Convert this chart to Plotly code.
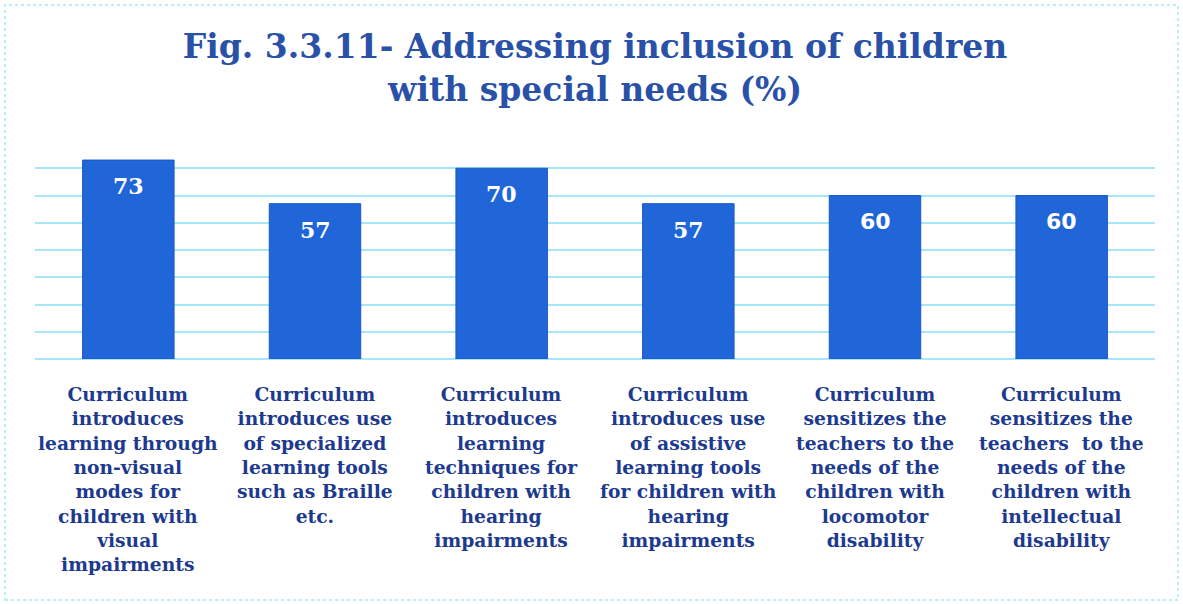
import plotly.graph_objects as go

categories = [
    "Curriculum<br>introduces<br>learning through<br>non-visual<br>modes for<br>children with<br>visual<br>impairments",
    "Curriculum<br>introduces use<br>of specialized<br>learning tools<br>such as Braille<br>etc.",
    "Curriculum<br>introduces<br>learning<br>techniques for<br>children with<br>hearing<br>impairments",
    "Curriculum<br>introduces use<br>of assistive<br>learning tools<br>for children with<br>hearing<br>impairments",
    "Curriculum<br>sensitizes the<br>teachers to the<br>needs of the<br>children with<br>locomotor<br>disability",
    "Curriculum<br>sensitizes the<br>teachers  to the<br>needs of the<br>children with<br>intellectual<br>disability",
]
values = [73, 57, 70, 57, 60, 60]
label_fonts = ["DejaVu Serif", "DejaVu Serif", "DejaVu Serif", "DejaVu Serif",
               "DejaVu Sans", "DejaVu Sans"]

W, H = 1183, 604
ML, MR, MT, MB = 35, 28, 141, 245
PW, PH = W - ML - MR, H - MT - MB

x_pos = list(range(len(categories)))

fig = go.Figure(
    go.Bar(
        x=x_pos,
        y=values,
        width=0.49,
        marker=dict(color="#2066d8", line=dict(color="#1a58c4", width=1)),
        hoverinfo="skip",
    )
)

# value labels inside the top of each bar
for i, (v, f) in enumerate(zip(values, label_fonts)):
    fig.add_annotation(
        x=i, y=v, xref="x", yref="y", text=f"<b>{v}</b>", showarrow=False,
        yanchor="middle", yshift=-26,
        font=dict(family=f, size=22, color="white"),
    )

# category labels under the bars
for i, c in enumerate(categories):
    fig.add_annotation(
        x=i, y=0, xref="x", yref="paper", text=f"<b>{c}</b>", showarrow=False,
        yanchor="top", yshift=-22, align="center",
        font=dict(family="DejaVu Serif", size=18.7, color="#1d3a8e"),
    )

# thin cyan frame around the whole figure
fig.add_shape(
    type="rect", xref="paper", yref="paper",
    x0=(5 - ML) / PW, x1=(1178 - ML) / PW,
    y0=(H - MB - 600) / PH, y1=(H - MB - 5) / PH,
    line=dict(color="#a6e6f6", width=1.5, dash="dot"),
)

fig.update_layout(
    width=W, height=H,
    margin=dict(l=ML, r=MR, t=MT, b=MB),
    paper_bgcolor="white", plot_bgcolor="white",
    showlegend=False,
    title=dict(
        text="<b>Fig. 3.3.11- Addressing inclusion of children<br>with special needs (%)</b>",
        x=0.503, xanchor="center", y=1 - 58 / H, yanchor="middle",
        font=dict(family="DejaVu Serif", size=33, color="#2a51a8"),
    ),
    xaxis=dict(
        range=[-0.5, len(categories) - 0.5], showticklabels=False,
        showgrid=False, zeroline=False, showline=False, fixedrange=True,
    ),
    yaxis=dict(
        range=[0, 80], dtick=10, showticklabels=False,
        showgrid=True, gridcolor="#a6e6f6", gridwidth=1.5,
        zeroline=True, zerolinecolor="#a6e6f6", zerolinewidth=1.5,
        showline=False, fixedrange=True,
    ),
)

fig.write_html("out.html")
